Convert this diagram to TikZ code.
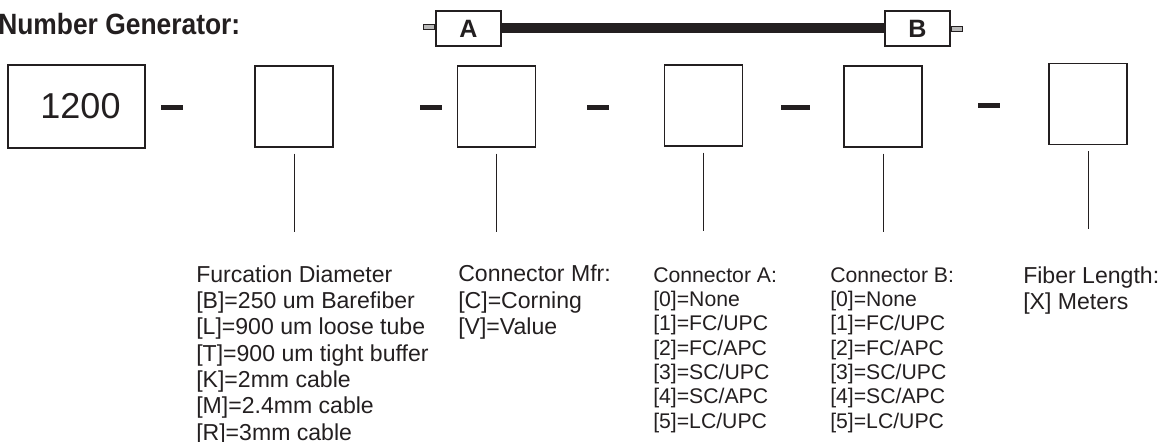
\documentclass[tikz,border=0pt]{standalone}
\usepackage{fontspec}
\setmainfont{Liberation Sans}
\usetikzlibrary{positioning}
\definecolor{ink}{HTML}{231F20}
\tikzset{
  digitbox/.style={draw=ink, line width=0.9pt, minimum width=58.5pt, minimum height=60.75pt, inner sep=0},
  dashbar/.style={fill=ink, minimum width=16.5pt, minimum height=3.75pt, inner sep=0},
  leader/.style={draw=ink, line width=0.7pt, shorten <=4.5pt},
  keytext/.style={anchor=base west, align=left, inner sep=0, text=ink, font=\fontsize{17.3}{19.7}\selectfont},
  keytextsm/.style={keytext, font=\fontsize{15.9}{18.2}\selectfont},
  plug/.style={draw=ink, line width=1.4pt, fill=white, minimum width=48.75pt, minimum height=26.25pt, inner sep=0, text=ink, font=\bfseries\fontsize{18.8}{20}\selectfont},
  stub/.style={draw=ink, fill=gray!55, line width=0.6pt, minimum width=8.5pt, minimum height=3.75pt, inner sep=0}
}
\begin{document}
\begin{tikzpicture}[x=0.75pt,y=-0.75pt]
\useasboundingbox (0,0) rectangle (1164,442);
\node[anchor=base west, inner sep=0, text=ink, font=\bfseries\fontsize{22}{24}\selectfont] (title) at (-2,35) {\scalebox{0.9}[1]{Number Generator:}};

\node[plug] (plugA) at (468.5,28.5) {A};
\node[plug] (plugB) at (917.5,28.5) {B};
\draw[ink, line width=7.5pt] (plugA.east) -- (plugB.west);
\node[stub, left=0pt of plugA, yshift=1.5pt] (stubA) {};
\node[stub, right=0pt of plugB] (stubB) {};

\node[draw=ink, line width=1.5pt, minimum width=102.75pt, minimum height=62.25pt, inner sep=0, text=ink, font=\fontsize{27}{30}\selectfont] (base) at (76.5,106.5) {\hspace*{6pt}1200};
\node[digitbox] (b1) at (294,106.5) {};
\node[digitbox] (b2) at (496.5,106.5) {};
\node[digitbox] (b3) at (703.5,105.5) {};
\node[digitbox] (b4) at (883,106.5) {};
\node[digitbox] (b5) at (1088,104) {};

\node[dashbar] (d1) at (172,108) {};
\node[dashbar] (d2) at (430.5,107.5) {};
\node[dashbar] (d3) at (598,107.5) {};
\node[dashbar, minimum width=21.75pt] (d4) at (795.5,107.5) {};
\node[dashbar] (d5) at (988.5,105.5) {};

\foreach \i in {1,...,5} {
  \coordinate (foot\i) at ([yshift=-63pt]b\i.south);
  \draw[leader] (b\i.south) -- (foot\i);
}

\node[keytext] (furcation) at (196,440) {Furcation Diameter\\{}[B]=250 um Barefiber\\{}[L]=900 um loose tube\\{}[T]=900 um tight buffer\\{}[K]=2mm cable\\{}[M]=2.4mm cable\\{}[R]=3mm cable};
\node[keytext] (mfr) at (458,334.5) {Connector Mfr:\\{}[C]=Corning\\{}[V]=Value};
\node[keytextsm] (conA) at (653,428) {Connector A:\\{}[0]=None\\{}[1]=FC/UPC\\{}[2]=FC/APC\\{}[3]=SC/UPC\\{}[4]=SC/APC\\{}[5]=LC/UPC};
\node[keytextsm] (conB) at (830,428) {Connector B:\\{}[0]=None\\{}[1]=FC/UPC\\{}[2]=FC/APC\\{}[3]=SC/UPC\\{}[4]=SC/APC\\{}[5]=LC/UPC};
\node[keytext] (length) at (1023,309.5) {Fiber Length:\\{}[X] Meters};
\end{tikzpicture}
\end{document}
